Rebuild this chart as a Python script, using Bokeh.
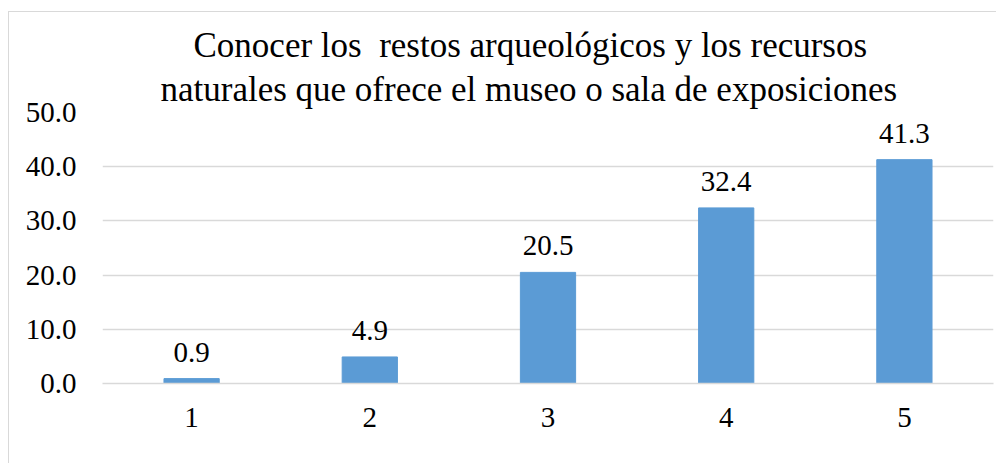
from bokeh.plotting import figure
from bokeh.models import ColumnDataSource, Title, LabelSet, FactorRange, NumeralTickFormatter
from bokeh.embed import file_html
from bokeh.resources import INLINE

categories = ["1", "2", "3", "4", "5"]
values = [0.9, 4.9, 20.5, 32.4, 41.3]
labels = ["0.9", "4.9", "20.5", "32.4", "41.3"]
title_lines = ["Conocer los\u00a0 restos arqueológicos y los recursos",
               "naturales que ofrece el museo o sala de exposiciones"]

FONT = "Liberation Serif"
GRID = "#d9d9d9"
BAR = "#5b9bd5"

src = ColumnDataSource(dict(cat=categories, val=values, lab=labels))

p = figure(width=988, height=452, x_range=FactorRange(*categories), y_range=(0, 50),
           output_backend="svg", toolbar_location=None,
           min_border_left=93, min_border_right=4, min_border_top=100, min_border_bottom=81)
p.styles = {"border-top": "1px solid #d9d9d9", "border-left": "1px solid #d9d9d9",
            "margin-top": "11px", "margin-left": "8px"}

p.vbar(x="cat", top="val", width=0.31, source=src, fill_color=BAR, line_color=BAR)
p.add_layout(LabelSet(x="cat", y="val", text="lab", source=src, text_align="center",
                      text_baseline="bottom", y_offset=17, text_font=FONT,
                      text_font_size="29px", text_color="#000000"))

p.outline_line_color = None
p.background_fill_color = "white"
p.border_fill_color = "white"
p.xgrid.grid_line_color = None
p.ygrid.grid_line_color = GRID
p.ygrid.grid_line_width = 1.3

p.yaxis.ticker = [0, 10, 20, 30, 40, 50]
p.yaxis.formatter = NumeralTickFormatter(format="0.0")
p.yaxis.axis_line_color = None
p.yaxis.major_tick_line_color = None
p.yaxis.minor_tick_line_color = None
p.yaxis.major_label_standoff = 20
p.yaxis.major_label_text_font = FONT
p.yaxis.major_label_text_font_size = "29px"
p.yaxis.major_label_text_color = "#000000"

p.xaxis.axis_line_color = GRID
p.xaxis.axis_line_width = 1.3
p.xaxis.major_tick_line_color = None
p.xaxis.minor_tick_line_color = None
p.xaxis.major_label_standoff = 18
p.xaxis.major_label_text_font = FONT
p.xaxis.major_label_text_font_size = "29px"
p.xaxis.major_label_text_color = "#000000"
p.x_range.range_padding = 0
p.x_range.group_padding = 0
p.x_range.factor_padding = 0

offsets = [91, 58]
standoffs = [-3, 8]
for line, off, so in reversed(list(zip(title_lines, offsets, standoffs))):
    t = Title(text=line, align="left", offset=off, text_font=FONT, text_font_size="35px",
              text_font_style="normal", text_color="#000000", standoff=so)
    p.add_layout(t, "above")

open("out.html", "w").write(file_html(p, INLINE))
